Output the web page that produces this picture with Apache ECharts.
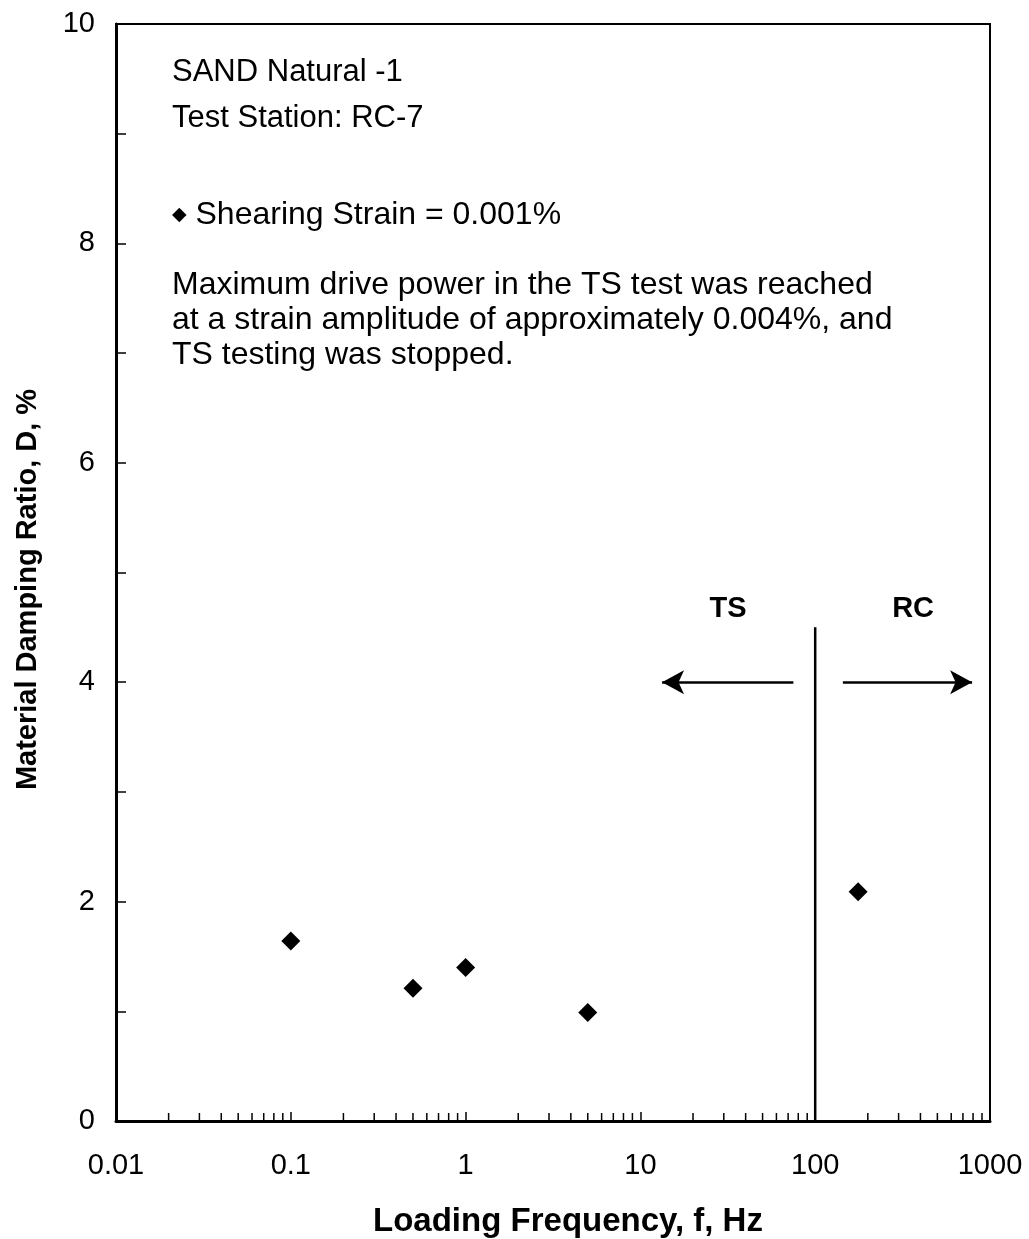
<!DOCTYPE html>
<html>
<head>
<meta charset="utf-8">
<script src="https://cdn.jsdelivr.net/npm/echarts@6/dist/echarts.min.js"></script>
<style>html,body{margin:0;padding:0;background:#fff}#c{width:1029px;height:1239px}</style>
</head>
<body>
<div id="c"></div>
<script>
// ---- data ----
const freqHz = [0.1, 0.5, 1, 5, 176];
const dampingPct = [1.64, 1.21, 1.40, 0.99, 2.09];
const xTickLabels = ['0.01', '0.1', '1', '10', '100', '1000'];
const yTickLabels = ['0', '2', '4', '6', '8', '10'];
const dividerLine = [[100, 0], [100, 4.5]];
const tsArrow = [[75, 4.0], [13.3, 4.0]];
const rcArrow = [[144, 4.0], [790, 4.0]];
const regionLabels = [{ name: 'TS', value: [31.7, 4.67] }, { name: 'RC', value: [363, 4.67] }];
const minorX = [];
[0.01, 0.1, 1, 10, 100].forEach(d => { for (let k = 2; k <= 9; k++) minorX.push(+(d * k).toPrecision(3)); });
const noteLines1 = ['SAND Natural -1', 'Test Station: RC-7'];
const legendText = 'Shearing Strain = 0.001%';
const noteLines2 = ['Maximum drive power in the TS test was reached', 'at a strain amplitude of approximately 0.004%, and', 'TS testing was stopped.'];

const FONT = '"Liberation Sans", Arial, sans-serif';
const chart = echarts.init(document.getElementById('c'), null, { renderer: 'canvas' });
chart.setOption({
  backgroundColor: '#fff',
  animation: false,
  grid: { left: 116, top: 24, right: 39, bottom: 118, show: true, borderColor: '#000', borderWidth: 2,
    backgroundColor: 'transparent', outerBoundsMode: 'none', containLabel: false },
  xAxis: {
    type: 'log', logBase: 10, min: 0.01, max: 1000,
    name: 'Loading Frequency, f, Hz', nameLocation: 'middle', nameGap: 84,
    nameTextStyle: { fontFamily: FONT, fontSize: 33, fontWeight: 'bold', color: '#000', padding: [0, 0, 0, 30] },
    axisLine: { lineStyle: { color: '#000', width: 3 } },
    axisTick: { inside: true, length: 9, lineStyle: { color: '#000', width: 1.5 } },
    axisLabel: { fontFamily: FONT, fontSize: 29, color: '#000', margin: 30,
      formatter: v => { const i = Math.round(Math.log10(v)) + 2; return xTickLabels[i] || ''; } },
    splitLine: { show: false }
  },
  yAxis: {
    type: 'value', min: 0, max: 10, interval: 2,
    name: 'Material Damping Ratio, D, %', nameLocation: 'middle', nameGap: 74,
    nameTextStyle: { fontFamily: FONT, fontSize: 29, fontWeight: 'bold', color: '#000', padding: [0, 34, 0, 0] },
    axisLine: { lineStyle: { color: '#000', width: 3 } },
    axisTick: { inside: true, length: 10, lineStyle: { color: '#000', width: 1.5 } },
    minorTick: { show: true, splitNumber: 2, length: 10, lineStyle: { color: '#000', width: 1.5 } },
    axisLabel: { fontFamily: FONT, fontSize: 29, color: '#000', margin: 21,
      formatter: v => yTickLabels[v / 2] || '' },
    splitLine: { show: false }
  },
  series: [
    {
      type: 'custom', silent: true, z: 5,
      data: minorX.map(v => [v, 0]),
      renderItem: (params, api) => {
        const p = api.coord([api.value(0), 0]);
        return { type: 'line', shape: { x1: p[0], y1: p[1], x2: p[0], y2: p[1] - 8 }, style: { stroke: '#000', lineWidth: 1.5 } };
      }
    },
    {
      type: 'line', data: dividerLine, symbol: 'none', silent: true,
      lineStyle: { color: '#000', width: 2.5 }
    },
    {
      type: 'line', data: [], symbol: 'none', silent: true,
      markLine: {
        silent: true, symbol: ['none', 'arrow'], symbolSize: [18, 22], label: { show: false },
        lineStyle: { color: '#000', width: 2.5, type: 'solid' },
        data: [
          [{ coord: tsArrow[0] }, { coord: tsArrow[1] }],
          [{ coord: rcArrow[0] }, { coord: rcArrow[1] }]
        ]
      }
    },
    {
      type: 'scatter', data: regionLabels, symbolSize: 0, silent: true,
      itemStyle: { opacity: 1 },
      label: { show: true, position: 'inside', formatter: p => p.name, fontFamily: FONT, fontSize: 29, fontWeight: 'bold', color: '#000', opacity: 1 }
    },
    {
      type: 'scatter', name: 'Shearing Strain = 0.001%',
      data: freqHz.map((f, i) => [f, dampingPct[i]]),
      symbol: 'diamond', symbolSize: 19,
      itemStyle: { color: '#000', opacity: 1 }
    }
  ],
  graphic: [
    { type: 'text', style: { x: 172, y: 72, text: noteLines1[0], font: '31px ' + FONT, fill: '#000', verticalAlign: 'middle' } },
    { type: 'text', style: { x: 172, y: 118, text: noteLines1[1], font: '31px ' + FONT, fill: '#000', verticalAlign: 'middle' } },
    { type: 'text', style: { x: 172, y: 215, text: '{d|◆} ' + legendText, font: '32px ' + FONT, fill: '#000', verticalAlign: 'middle',
        rich: { d: { fontSize: 19, fontFamily: '"DejaVu Sans"', fill: '#000' } } } },
    { type: 'text', style: { x: 172, y: 320, text: noteLines2.join('\n'), font: '32px ' + FONT, lineHeight: 35, fill: '#000', verticalAlign: 'middle' } }
  ]
});
</script>
</body>
</html>
